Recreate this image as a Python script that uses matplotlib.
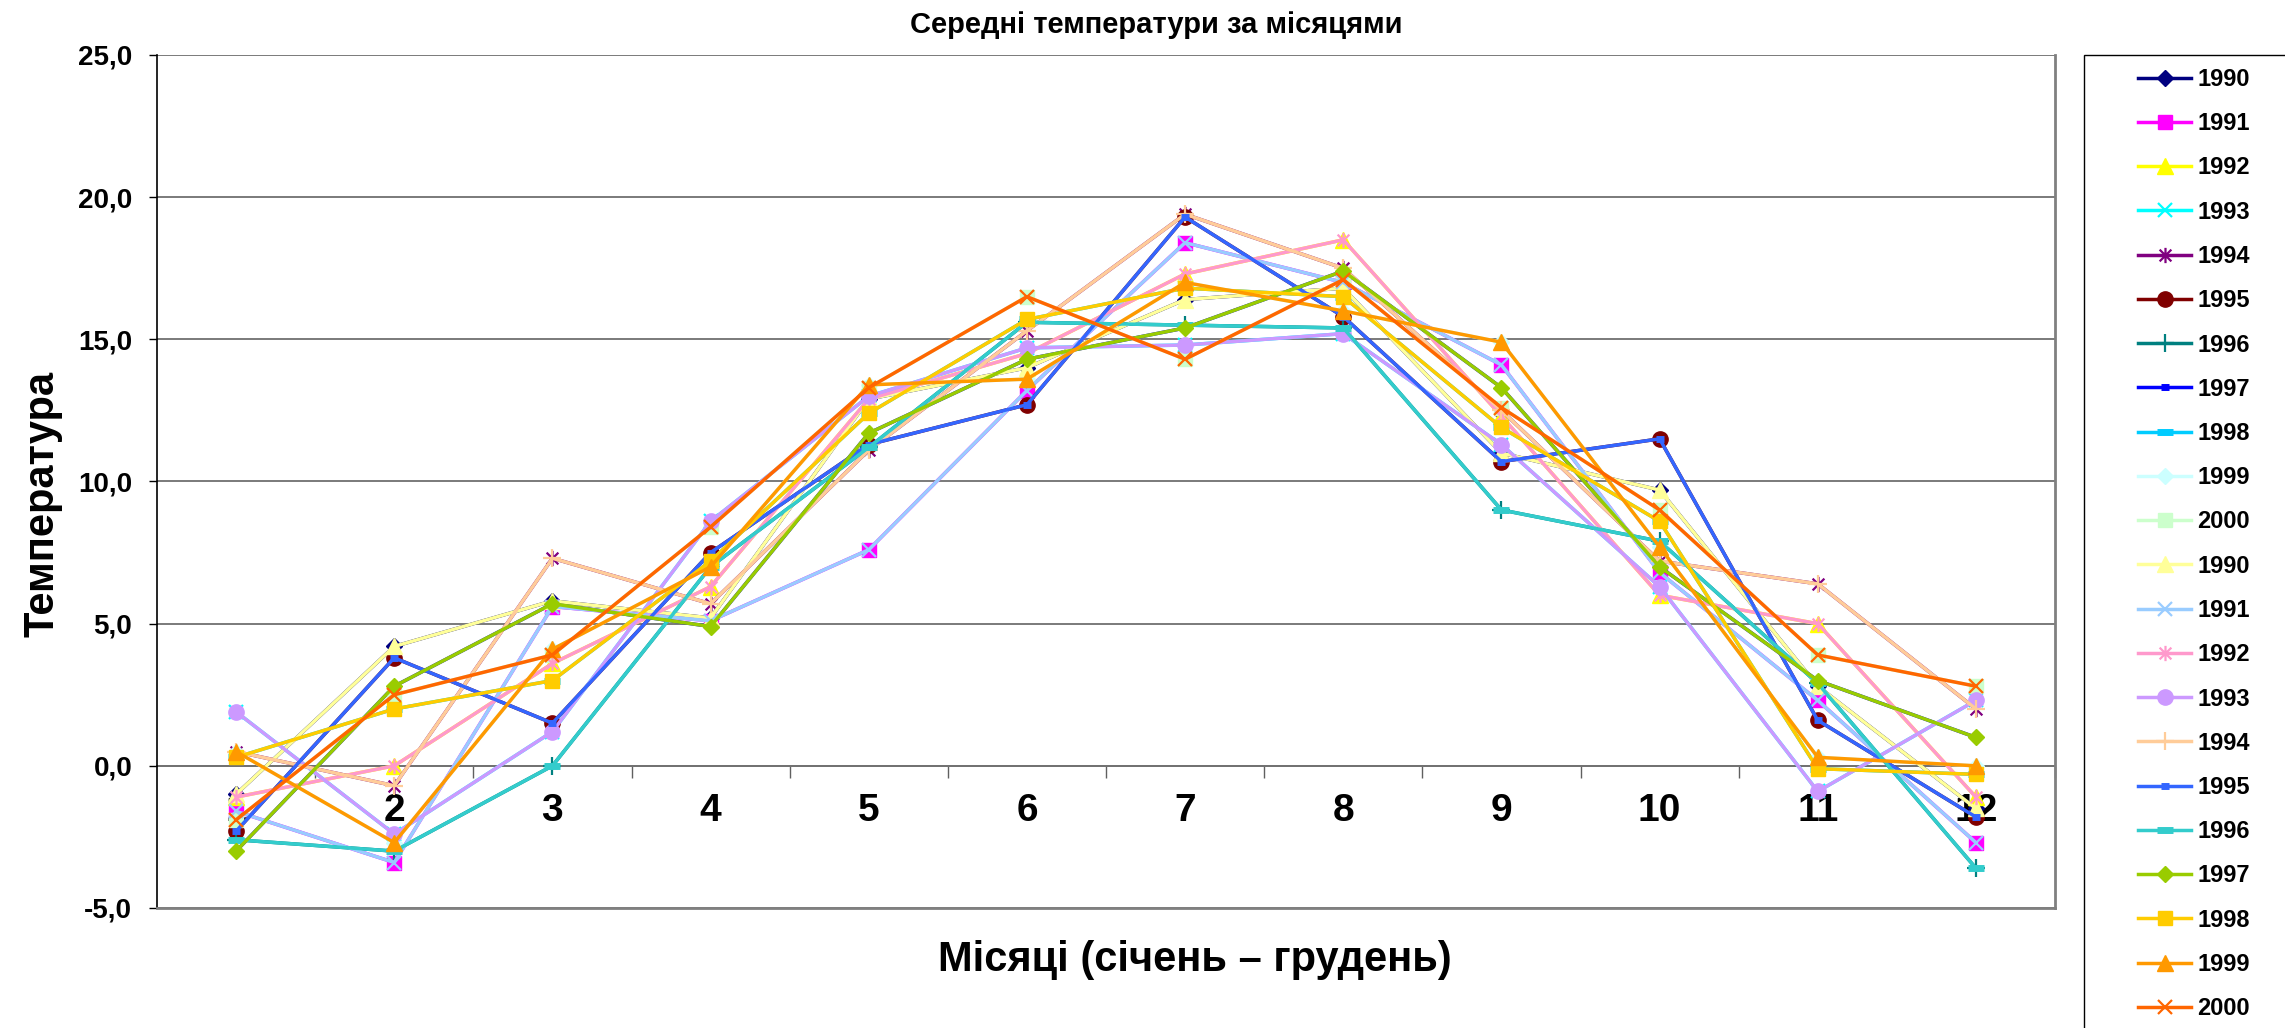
import numpy as np
import matplotlib.pyplot as plt
from matplotlib.path import Path
from matplotlib.patches import Rectangle

plt.rcParams['font.family'] = ['Liberation Sans', 'DejaVu Sans']
plt.rcParams['font.weight'] = 'bold'

# monthly mean temperatures
months = list(range(1, 13))
month_labels = [str(m) for m in months]
years = ['1990', '1991', '1992', '1993', '1994', '1995',
         '1996', '1997', '1998', '1999', '2000']

t1990 = [-1.0, 4.2, 5.8, 5.2, 12.9, 14.0, 16.4, 16.8, 11.0, 9.7, 2.8, -1.5]
t1991 = [-1.6, -3.4, 5.6, 5.1, 7.6, 13.2, 18.4, 17.0, 14.1, 6.8, 2.3, -2.7]
t1992 = [-1.1, 0.0, 3.6, 6.3, 12.9, 14.5, 17.3, 18.5, 12.3, 6.0, 5.0, -1.1]
t1993 = [1.9, -2.4, 1.2, 8.6, 13.0, 14.7, 14.8, 15.2, 11.3, 6.3, -0.9, 2.3]
t1994 = [0.5, -0.7, 7.3, 5.7, 11.1, 15.3, 19.4, 17.5, 12.5, 7.2, 6.4, 2.0]
t1995 = [-2.3, 3.8, 1.5, 7.5, 11.3, 12.7, 19.3, 15.8, 10.7, 11.5, 1.6, -1.8]
t1996 = [-2.6, -3.0, 0.0, 7.0, 11.2, 15.6, 15.5, 15.4, 9.0, 7.9, 2.9, -3.6]
t1997 = [-3.0, 2.8, 5.7, 4.9, 11.7, 14.3, 15.4, 17.4, 13.3, 7.0, 3.0, 1.0]
t1998 = [0.3, 2.0, 3.0, 7.2, 12.4, 15.7, 16.8, 16.5, 11.9, 8.6, -0.1, -0.3]
t1999 = [0.5, -2.7, 4.1, 7.0, 13.4, 13.6, 17.0, 16.0, 14.9, 7.7, 0.3, 0.0]
t2000 = [-1.9, 2.5, 3.9, 8.4, 13.3, 16.5, 14.3, 17.1, 12.6, 9.0, 3.9, 2.8]

series = [t1990, t1991, t1992, t1993, t1994, t1995,
          t1996, t1997, t1998, t1999, t2000]

# excel-like marker for "star": X with a vertical bar
star = Path([(-1, -1), (1, 1), (-1, 1), (1, -1), (0, -1.3), (0, 1.3)],
            [Path.MOVETO, Path.LINETO] * 3)

dark_colors = ['#000080', '#FF00FF', '#FFFF00', '#00FFFF', '#800080', '#800000',
               '#008080', '#0000FF', '#00CCFF', '#CCFFFF', '#CCFFCC']
dark_markers = ['D', 's', '^', 'x', star, 'o', '+', '_', '_', 'D', 's']
dark_ms = [8, 10.5, 12, 10, 11, 11, 13, 6, 11, 8, 10.5]

light_colors = ['#FFFF99', '#99CCFF', '#FF99CC', '#CC99FF', '#FFCC99', '#3366FF',
                '#33CCCC', '#99CC00', '#FFCC00', '#FF9900', '#FF6600']
light_markers = ['^', 'x', star, 'o', '+', '_', '_', 'D', 's', '^', 'x']
light_ms = [12, 10, 11, 11, 13, 6, 11, 8, 10.5, 12, 10]


def edge_width(marker):
    if isinstance(marker, str) and marker == '_':
        return 5
    if isinstance(marker, str) and marker in 'x+':
        return 1.6
    if not isinstance(marker, str):
        return 1.6
    return 1.0


fig = plt.figure(figsize=(22.85, 10.28), dpi=100)
ax = fig.add_axes([157 / 2285, 1 - 908 / 1028, 1898 / 2285, 853 / 1028])

for vals, c, m, s, y in zip(series, dark_colors, dark_markers, dark_ms, years):
    ax.plot(months, vals, color=c, lw=2.5, marker=m, ms=s, mfc=c, mec=c,
            mew=edge_width(m), label=y)
for vals, c, m, s, y in zip(series, light_colors, light_markers, light_ms, years):
    ax.plot(months, vals, color=c, lw=2.5, marker=m, ms=s, mfc=c, mec=c,
            mew=edge_width(m), label=y)

ax.set_xlim(0.5, 12.5)
ax.set_ylim(-5, 25)
yt = list(range(-5, 30, 5))
ax.set_yticks(yt)
ax.set_yticklabels([('%.1f' % v).replace('.', ',') for v in yt])
ax.tick_params(axis='y', length=5.8, width=1, color='black', pad=12, labelsize=20)
ax.tick_params(axis='x', which='both', length=0, labelbottom=False)
ax.yaxis.grid(True, color='#707070', lw=1.3)
ax.set_axisbelow(True)

ax.spines['top'].set_visible(False)
ax.spines['left'].set_color('black')
ax.spines['left'].set_linewidth(1.2)
for side in ['right', 'bottom']:
    ax.spines[side].set_color('#808080')
    ax.spines[side].set_linewidth(2)

# category axis crosses at 0
sec = ax.secondary_xaxis(5 / 30)
sec.set_xticks(months, labels=month_labels)
sec.set_xticks(np.arange(1.5, 13, 1), minor=True)
sec.tick_params(which='major', length=0, pad=19.5, labelsize=28)
sec.tick_params(which='minor', length=8.6, width=1, color='#606060', direction='out')
sec.spines['bottom'].set_color('#808080')
sec.spines['bottom'].set_linewidth(1.3)

fig.text(0.506, 0.9757, 'Середні температури за місяцями', ha='center', va='center',
         fontsize=21)
fig.text(0.523, 0.066, 'Місяці (січень – грудень)', ha='center', va='center',
         fontsize=30)
fig.text(0.0185, 0.51, 'Температура', ha='center', va='center', rotation=90,
         fontsize=30)

handles, labels = ax.get_legend_handles_labels()
fig.legend(handles, labels, loc='upper left', bbox_to_anchor=(2138 / 2285, 1 - 68 / 1028),
           frameon=False, fontsize=17, labelspacing=0.9, handlelength=2.25,
           handletextpad=0.25, borderpad=0, borderaxespad=0)
fig.add_artist(Rectangle((2084 / 2285, -0.05), 0.2, 1.05 - 55 / 1028,
                         transform=fig.transFigure, fill=False, ec='black', lw=1))

fig.savefig('out.png', dpi=100)
